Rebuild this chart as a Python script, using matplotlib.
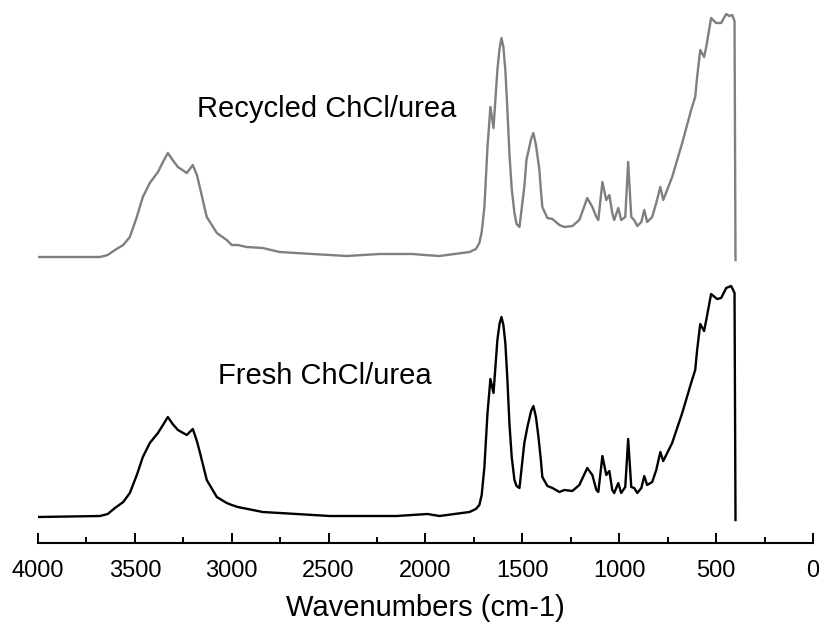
import matplotlib
matplotlib.use("Agg")
import matplotlib.pyplot as plt
from matplotlib.ticker import MultipleLocator

plt.rcParams['font.family'] = ['Liberation Sans', 'DejaVu Sans']

# спектр recycled ChCl/urea (волновые числа, интенсивность в усл. ед.)
wn_recycled = [4000, 3680, 3640, 3603, 3560, 3526, 3490, 3459, 3423, 3381, 3355, 3330,
               3305, 3278, 3232, 3201, 3180, 3165, 3129, 3077, 3026, 3000, 2969, 2923,
               2840, 2753, 2582, 2407, 2237, 2067, 2005, 1928, 1773, 1740, 1722, 1710,
               1696, 1688, 1680, 1665, 1649, 1629, 1618, 1608, 1598, 1588, 1578, 1567,
               1555, 1541, 1530, 1515, 1490, 1479, 1455, 1443, 1430, 1412, 1405, 1397,
               1371, 1345, 1309, 1283, 1242, 1206, 1165, 1139, 1118, 1108, 1087, 1067,
               1051, 1036, 1026, 1005, 990, 969, 954, 938, 923, 907, 886, 871, 856, 830,
               809, 788, 773, 727, 675, 629, 608, 598, 582, 562, 551, 526, 500, 474,
               448, 433, 417, 405, 400]
abs_recycled = [0, 0, 2, 7, 12, 20, 40, 60, 74, 85, 95, 104,
                97, 90, 84, 92, 82, 70, 40, 24, 17, 12, 12, 10,
                9, 5, 3, 1, 3, 3, 2, 1, 5, 8, 14, 25,
                50, 80, 110, 150, 129, 187, 208, 219, 210, 187, 150, 104,
                68, 44, 33, 30, 70, 97, 118, 124, 112, 87, 68, 50,
                39, 38, 32, 30, 31, 37, 59, 50, 40, 37, 75, 57,
                62, 44, 37, 49, 37, 40, 95, 40, 37, 31, 35, 47, 35, 40,
                54, 70, 57, 80, 114, 147, 160, 180, 207, 200, 210, 239, 234, 234,
                243, 241, 242, 236, -3]

# спектр fresh ChCl/urea
wn_fresh = [4000, 3680, 3640, 3603, 3560, 3526, 3490, 3459, 3423, 3381, 3355, 3330,
            3305, 3278, 3232, 3201, 3180, 3165, 3129, 3077, 3026, 3000, 2969, 2840,
            2665, 2495, 2325, 2150, 1990, 1928, 1773, 1740, 1722, 1710, 1696, 1688,
            1680, 1665, 1649, 1629, 1618, 1608, 1598, 1588, 1578, 1567, 1555, 1541,
            1530, 1515, 1490, 1474, 1455, 1443, 1430, 1417, 1405, 1397, 1371, 1345,
            1309, 1283, 1242, 1206, 1165, 1139, 1118, 1108, 1087, 1067, 1051, 1036,
            1026, 1005, 990, 969, 954, 938, 923, 907, 886, 871, 856, 830, 809, 788,
            773, 727, 675, 629, 608, 598, 582, 562, 551, 526, 495, 474, 448, 423,
            412, 405, 400]
abs_fresh = [0, 1, 3, 9, 15, 24, 42, 60, 74, 84, 92, 100,
             93, 87, 82, 88, 76, 65, 37, 20, 14, 12, 10, 5,
             3, 1, 1, 1, 3, 1, 5, 8, 12, 22, 50, 77,
             104, 138, 124, 177, 193, 200, 192, 174, 140, 94, 60, 37,
             31, 29, 74, 90, 106, 111, 100, 80, 58, 40, 31, 29,
             25, 27, 26, 32, 49, 42, 27, 25, 61, 42, 46, 27,
             24, 34, 24, 30, 78, 30, 29, 24, 29, 41, 32, 35, 47, 65,
             56, 74, 104, 134, 147, 167, 193, 186, 197, 223, 218, 219, 229, 231,
             227, 224, -3]

offset_fresh = 26
offset_recycled = 286

fig = plt.figure(figsize=(8.2, 6.3), dpi=100)
ax = fig.add_axes([38 / 820, 87 / 630, 775 / 820, 543 / 630])

ax.plot(wn_recycled, [v + offset_recycled for v in abs_recycled], color='#7f7f7f', lw=1.7)
ax.plot(wn_fresh, [v + offset_fresh for v in abs_fresh], color='black', lw=1.7)

ax.set_xlim(4000, 0)
ax.set_ylim(0, 543)

ax.text(3180, 426, 'Recycled ChCl/urea', fontsize=21, ha='left', va='baseline')
ax.text(3071, 159, 'Fresh ChCl/urea', fontsize=21, ha='left', va='baseline')

for s in ['top', 'left', 'right']:
    ax.spines[s].set_visible(False)
ax.spines['bottom'].set_linewidth(1.5)
ax.set_yticks([])

ax.xaxis.set_major_locator(MultipleLocator(500))
ax.xaxis.set_minor_locator(MultipleLocator(250))
ax.tick_params(axis='x', which='major', direction='in', length=7, width=1.4,
               labelsize=17, pad=12)
ax.tick_params(axis='x', which='minor', direction='in', length=4, width=1.4)
ax.set_xlabel('Wavenumbers (cm-1)', fontsize=21, labelpad=9)

fig.savefig('out.png', dpi=100)
